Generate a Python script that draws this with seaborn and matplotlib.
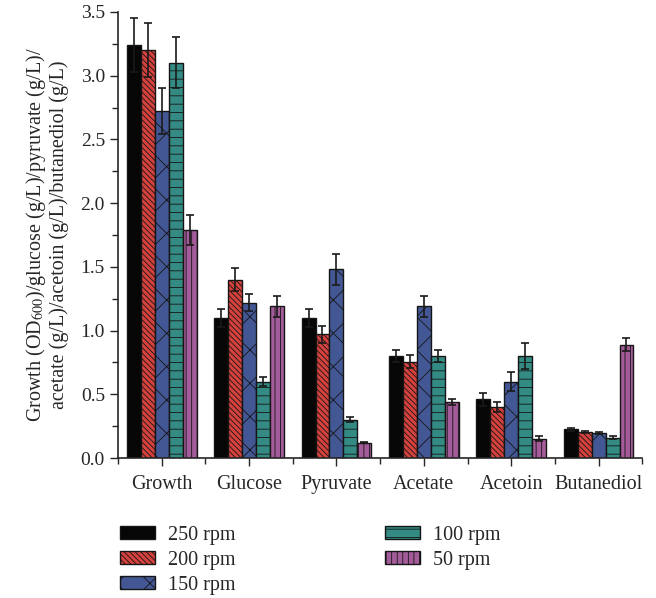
import numpy as np
import pandas as pd
import matplotlib
matplotlib.use("Agg")
import matplotlib.pyplot as plt
from matplotlib.ticker import MultipleLocator, FixedLocator, FormatStrFormatter
import seaborn as sns

CATS = ["Growth", "Glucose", "Pyruvate", "Acetate", "Acetoin", "Butanediol"]
RPMS = ["250 rpm", "200 rpm", "150 rpm", "100 rpm", "50 rpm"]
VAL_250 = [3.24, 1.10, 1.10, 0.80, 0.46, 0.225]
VAL_200 = [3.20, 1.40, 0.97, 0.755, 0.40, 0.205]
VAL_150 = [2.72, 1.22, 1.48, 1.19, 0.60, 0.195]
VAL_100 = [3.10, 0.60, 0.30, 0.80, 0.80, 0.16]
VAL_50 = [1.79, 1.19, 0.12, 0.44, 0.15, 0.89]
ERR_250 = [0.21, 0.07, 0.07, 0.05, 0.05, 0.01]
ERR_200 = [0.21, 0.09, 0.07, 0.05, 0.04, 0.01]
ERR_150 = [0.18, 0.07, 0.12, 0.08, 0.075, 0.01]
ERR_100 = [0.20, 0.035, 0.02, 0.05, 0.10, 0.01]
ERR_50 = [0.115, 0.08, 0.005, 0.02, 0.02, 0.05]
COLORS = ["#060606", "#ee2a24", "#3450a2", "#25998f", "#b04fa3"]
HATCH_COLORS = ["#060606", "#9a1a18", "#1e2e66", "#1d4f4a", "#5a2654"]
HATCHES = ["", "\\\\\\\\\\\\", "x", "--", "|||"]

vals = [VAL_250, VAL_200, VAL_150, VAL_100, VAL_50]
errs = [ERR_250, ERR_200, ERR_150, ERR_100, ERR_50]
df = pd.DataFrame([{"cat": c, "rpm": r, "val": v[i]}
                   for r, v in zip(RPMS, vals) for i, c in enumerate(CATS)])

sns.set_style("ticks")
plt.rcParams.update({"font.family": ["Liberation Serif", "DejaVu Serif"],
                     "hatch.linewidth": 0.6, "mathtext.fontset": "stix"})

fig = plt.figure(figsize=(6.56, 5.98), dpi=100)
ax = fig.add_axes([0.18, 0.234, 0.799, 0.746])
sns.barplot(data=df, x="cat", y="val", hue="rpm", palette=COLORS, width=0.8,
            errorbar=None, edgecolor="#111111", linewidth=1.0, ax=ax, legend=False)

bar_conts = list(ax.containers)
for cont, h, hc, e in zip(bar_conts, HATCHES, HATCH_COLORS, errs):
    xs = []
    for b in cont.patches:
        b.set_hatch(h)
        b.set_edgecolor("#151515")
        if hasattr(b, "set_hatchcolor"):
            b.set_hatchcolor(hc)
        xs.append(b.get_x() + b.get_width() / 2)
    hs = [b.get_height() for b in cont.patches]
    ax.errorbar(xs, hs, yerr=e, fmt="none", ecolor="#1a1a1a", elinewidth=1.2,
                capsize=3, capthick=1.2, zorder=5)

ax.set_xlim(-0.5, 5.5)
ax.set_ylim(0, 3.5)
ax.yaxis.set_major_locator(MultipleLocator(0.5))
ax.yaxis.set_minor_locator(MultipleLocator(0.25))
ax.yaxis.set_major_formatter(FormatStrFormatter("%.1f"))
ax.xaxis.set_minor_locator(FixedLocator(np.arange(-0.5, 6.0, 1.0)))
ax.tick_params(axis="both", which="major", length=6, width=1, labelsize=14, direction="out")
ax.tick_params(axis="both", which="minor", length=4, width=1, direction="out")
ax.tick_params(axis="x", labelsize=14.5, pad=6)
for s in ["left", "bottom"]:
    ax.spines[s].set_linewidth(1.2)
sns.despine(ax=ax)
ax.set_xlabel("")
ax.set_ylabel("Growth (OD$_{600}$)/glucose (g/L)/pyruvate (g/L)/\nacetate (g/L)/acetoin (g/L)/butanediol (g/L)",
              fontsize=14.5, labelpad=8, linespacing=1.1)

handles = [cont.patches[0] for cont in bar_conts]
fig.legend(handles, RPMS, ncol=2, loc="upper left", bbox_to_anchor=(0.183, 0.121),
           frameon=False, fontsize=14.5, handlelength=1.75, handleheight=0.65,
           columnspacing=7.4, labelspacing=0.3, handletextpad=0.65,
           borderaxespad=0, borderpad=0)

fig.savefig("out.png", dpi=100)
